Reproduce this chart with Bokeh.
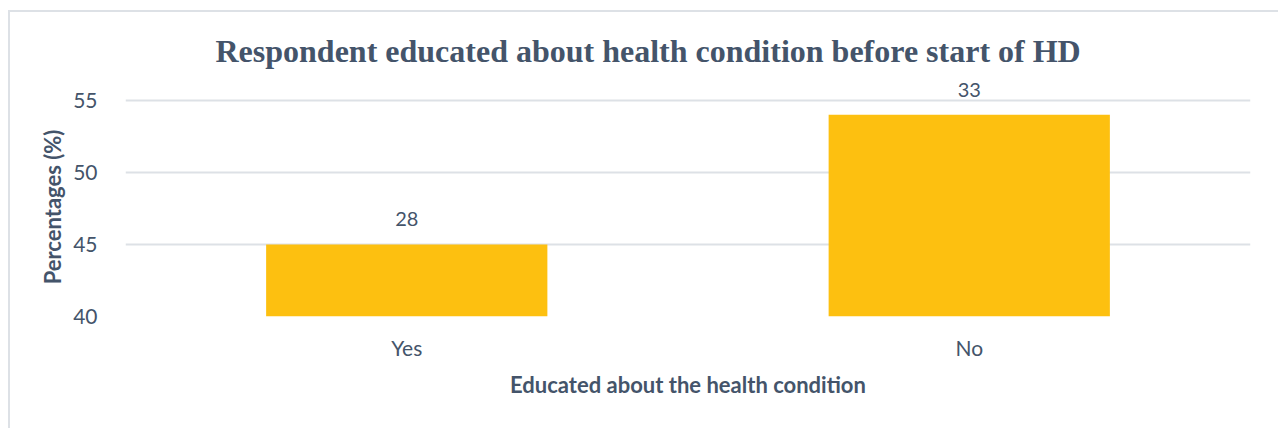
from bokeh.plotting import figure
from bokeh.models import ColumnDataSource, Range1d, FactorRange, FixedTicker, Title
from bokeh.core.properties import value
from bokeh.embed import file_html
from bokeh.resources import INLINE

categories = ["Yes", "No"]
values = [45, 54]
labels = ["28", "33"]

TXT = "#44546A"
GRID = "#DDE1E6"
BAR = "#FDC010"

src = ColumnDataSource(dict(cat=categories, val=values, lab=labels, base=[40, 40]))

p = figure(x_range=FactorRange(factors=categories, range_padding=0),
           y_range=Range1d(40, 55.2),
           width=1278, height=428, output_backend="svg", toolbar_location=None,
           min_border_left=125, min_border_right=28, min_border_top=97, min_border_bottom=112)
p.styles = {"background": "linear-gradient(#DDE1E6, #DDE1E6) 8px 10px / 2px calc(100% - 10px) no-repeat, "
                          "linear-gradient(#DDE1E6, #DDE1E6) 8px 10px / calc(100% - 8px) 2px no-repeat, "
                          "white"}

p.vbar(x="cat", top="val", bottom="base", width=0.5, source=src,
       fill_color=BAR, line_color=None)
p.text(x="cat", y="val", text="lab", source=src, text_align="center",
       text_baseline="middle", y_offset=-25, text_color=TXT,
       text_font=value("Lato"), text_font_size="20px", level="overlay")

p.title = Title(text="Respondent educated about health condition before start of HD",
                align="left", offset=90, vertical_align="top",
                text_font="Liberation Serif", text_font_size="32px",
                text_font_style="bold", text_color=TXT, standoff=54)

p.outline_line_color = None
p.background_fill_color = "white"
p.border_fill_alpha = 0

p.yaxis.ticker = FixedTicker(ticks=[40, 45, 50, 55])
p.yaxis.axis_line_color = None
p.yaxis.major_tick_line_color = None
p.yaxis.minor_tick_line_color = None
p.yaxis.major_label_text_font = "Lato"
p.yaxis.major_label_text_font_size = "21px"
p.yaxis.major_label_text_color = TXT
p.yaxis.major_label_standoff = 22
p.yaxis.axis_label = "Percentages (%)"
p.yaxis.axis_label_text_font = "Lato"
p.yaxis.axis_label_text_font_size = "22px"
p.yaxis.axis_label_text_font_style = "bold"
p.yaxis.axis_label_text_color = TXT
p.yaxis.axis_label_standoff = 4

p.xaxis.axis_line_color = None
p.xaxis.major_tick_line_color = None
p.xaxis.minor_tick_line_color = None
p.xaxis.major_label_text_font = "Lato"
p.xaxis.major_label_text_font_size = "21px"
p.xaxis.major_label_text_color = TXT
p.xaxis.major_label_standoff = 12
p.xaxis.axis_label = "Educated about the health condition"
p.xaxis.axis_label_text_font = "Lato"
p.xaxis.axis_label_text_font_size = "22px"
p.xaxis.axis_label_text_font_style = "bold"
p.xaxis.axis_label_text_color = TXT
p.xaxis.axis_label_standoff = 8

p.xgrid.grid_line_color = None
p.ygrid.grid_line_color = GRID
p.ygrid.grid_line_width = 2

open("out.html", "w").write(file_html(p, INLINE))
